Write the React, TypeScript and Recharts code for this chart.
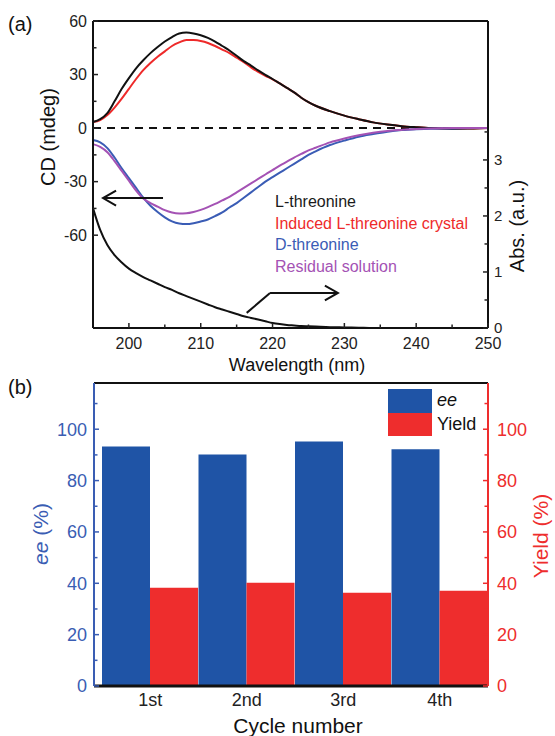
import React from 'react'
import { LineChart, Line, XAxis, YAxis, ReferenceLine, Legend, BarChart, Bar } from 'recharts'

const FONT = '"Liberation Sans", Arial, Helvetica, sans-serif'

// (a) CD spectra (mdeg) and absorbance of L-threonine
const wavelength = [195, 196, 197, 198, 199, 200, 201, 202, 203, 204, 205, 206, 207, 208, 209, 210, 211, 212, 213, 214, 215, 216, 217, 218, 219, 220, 221, 222, 223, 224, 225, 226, 228, 230, 232, 234, 236, 238, 240, 242, 245, 248, 250]
const cdL = [3.4, 5, 8.4, 15, 22, 28, 33.5, 38, 42, 45.4, 48.5, 51, 53, 53.5, 53, 52, 50.5, 48.5, 46, 43.5, 40.5, 37.5, 35, 32.3, 29.8, 27.5, 25, 22.5, 20, 17, 14.5, 12.5, 9.5, 7, 5, 3.2, 2, 1.1, 0.5, 0, -0.3, -0.2, 0]
const cdInduced = [3.4, 4.5, 7.3, 11.5, 16.5, 22, 27.5, 32.5, 36.5, 40, 43, 46, 48, 49.4, 49.3, 48.8, 47.7, 46, 44, 42, 39.5, 37, 34, 31.5, 29.3, 27.3, 25, 22.5, 20, 17, 14.5, 12.5, 9.5, 7, 5, 3.2, 2, 1.1, 0.5, 0, -0.3, -0.2, 0]
const cdD = [-6.7, -8, -11.2, -16.5, -22.5, -28, -33.5, -39, -43.5, -47, -50, -52.3, -53.5, -53.8, -53.3, -52.3, -51.2, -49.3, -47.2, -44.5, -42, -39, -36, -33, -30, -27.5, -25, -22.5, -20, -17.5, -15, -13, -9.5, -7, -4.8, -3.3, -2, -1.1, -0.6, -0.3, -0.2, 0, 0]
const cdResidual = [-9, -10.5, -13.5, -18.5, -24, -29.5, -35, -39.5, -42, -44, -46, -47.3, -47.8, -47.7, -47, -45.8, -44.3, -42.5, -40.5, -38.5, -36, -33.5, -31, -28.5, -26, -23.5, -21, -18.8, -16.5, -14.5, -12.5, -11, -8, -5.8, -4, -2.6, -1.6, -1, -0.5, -0.2, 0, 0, 0]
const absL = [2.14, 1.75, 1.48, 1.3, 1.17, 1.06, 0.98, 0.91, 0.85, 0.79, 0.73, 0.68, 0.62, 0.57, 0.52, 0.47, 0.42, 0.37, 0.33, 0.29, 0.25, 0.21, 0.18, 0.15, 0.12, 0.09, 0.07, 0.055, 0.045, 0.035, 0.03, 0.025, 0.015, 0.01, 0.005, 0, 0, 0, 0, 0, 0, 0, 0]

const cdMajor = [-60, -30, 0, 30, 60]
const cdMinor = [-45, -15, 15, 45]
const absMajor = [0, 1, 2, 3]
const absMinor = [0.5, 1.5, 2.5, 3.5]
const wlMajor = [200, 210, 220, 230, 240, 250]
const wlMinor = [205, 215, 225, 235, 245]

const legendA = [
  { name: 'L-threonine', color: '#1a1a1a' },
  { name: 'Induced L-threonine crystal', color: '#ee2a2a' },
  { name: 'D-threonine', color: '#3a5cb5' },
  { name: 'Residual solution', color: '#a452b4' },
]

// arrows pointing to the axis each curve family belongs to
const cdArrow = [{ x: 204.75, y: -39.2 }, { x: 196.4, y: -39.2 }]
const absArrowRise = [{ x: 216.4, y: 0.27 }, { x: 219.65, y: 0.625 }]
const absArrow = [{ x: 219.65, y: 0.625 }, { x: 229.1, y: 0.625 }]

// (b) recycling
const cycles = ['1st', '2nd', '3rd', '4th']
const eeValues = [93.3, 90.2, 95.2, 92.2]
const yieldValues = [38.3, 40.2, 36.3, 37.1]
const pctMajor = [0, 20, 40, 60, 80, 100]
const pctMinor = [10, 30, 50, 70, 90, 110]

const BLUE_BAR = '#1f54a6'
const BLUE_TXT = '#3a5db3'
const RED = '#ee2d2d'

const specData = wavelength.map((wl, i) => ({
  wl,
  l: cdL[i],
  induced: cdInduced[i],
  d: cdD[i],
  residual: cdResidual[i],
  abs: absL[i],
}))

const barData = cycles.map((c, i) => ({ cycle: c, ee: eeValues[i], yield: yieldValues[i] }))

type Side = 'left' | 'right' | 'bottom'

function axisTick(side: Side, major: number[], color: string, size: number, gap = 6, len = 5) {
  return (props: any) => {
    const { x, y, payload } = props
    const v = payload.value
    const isMajor = major.indexOf(v) >= 0
    const l = isMajor ? len : len * 0.7
    const txt = { fill: color, fontSize: size, fontFamily: FONT }
    if (side === 'left') {
      return (
        <g>
          <line x1={x} y1={y} x2={x + l} y2={y} stroke={color} strokeWidth={1.5} />
          {isMajor && <text x={x - gap} y={y} dy="0.355em" textAnchor="end" {...txt}>{v}</text>}
        </g>
      )
    }
    if (side === 'right') {
      return (
        <g>
          <line x1={x} y1={y} x2={x - l} y2={y} stroke={color} strokeWidth={1.5} />
          {isMajor && <text x={x + gap} y={y} dy="0.355em" textAnchor="start" {...txt}>{v}</text>}
        </g>
      )
    }
    return (
      <g>
        <line x1={x} y1={y} x2={x} y2={y - l} stroke={color} strokeWidth={1.5} />
        {isMajor && <text x={x} y={y + gap} dy="0.71em" textAnchor="middle" {...txt}>{v}</text>}
      </g>
    )
  }
}

function Arrow(props: any) {
  const { x1, y1, x2, y2 } = props
  const a = Math.atan2(y2 - y1, x2 - x1)
  const h = 15
  const w = 0.52
  const p1 = `${x2 - h * Math.cos(a - w)},${y2 - h * Math.sin(a - w)}`
  const p2 = `${x2 - h * Math.cos(a + w)},${y2 - h * Math.sin(a + w)}`
  return (
    <g>
      <line x1={x1} y1={y1} x2={x2} y2={y2} stroke="#111" strokeWidth={2} />
      <polyline points={`${p1} ${x2},${y2} ${p2}`} fill="none" stroke="#111" strokeWidth={2} />
    </g>
  )
}

function PlainSeg(props: any) {
  const { x1, y1, x2, y2 } = props
  return <line x1={x1} y1={y1} x2={x2} y2={y2} stroke="#111" strokeWidth={2} />
}

function vText(cx: number, cy: number, size: number, color: string, rotate = true): React.CSSProperties {
  return {
    position: 'absolute',
    left: cx,
    top: cy,
    transform: `translate(-50%, -50%)${rotate ? ' rotate(-90deg)' : ''}`,
    whiteSpace: 'nowrap',
    fontSize: size,
    lineHeight: 1,
    color,
    fontFamily: FONT,
  }
}

export default function App() {
  return (
    <div style={{ position: 'absolute', left: 0, top: 0, width: 555, height: 736, background: '#fff', overflow: 'hidden', fontFamily: FONT }}>
      {/* panel (a) */}
      <div style={{ position: 'absolute', left: 0, top: 0 }}>
        <LineChart width={555} height={370} data={specData} margin={{ top: 21, right: 0, left: 0, bottom: 0 }}>
          <XAxis
            dataKey="wl"
            type="number"
            domain={[195, 250]}
            ticks={[...wlMajor, ...wlMinor].sort((a, b) => a - b)}
            interval={0}
            height={42}
            tickSize={0}
            tickMargin={0}
            tickLine={false}
            axisLine={{ stroke: '#111', strokeWidth: 2 }}
            tick={axisTick('bottom', wlMajor, '#222', 16, 10)}
          />
          <YAxis
            yAxisId="cd"
            type="number"
            domain={[-112, 60]}
            ticks={[...cdMajor, ...cdMinor].sort((a, b) => a - b)}
            interval={0}
            width={93}
            tickSize={0}
            tickMargin={0}
            tickLine={false}
            axisLine={{ stroke: '#111', strokeWidth: 2 }}
            tick={axisTick('left', cdMajor, '#222', 16)}
          />
          <YAxis
            yAxisId="abs"
            orientation="right"
            type="number"
            domain={[0, 5.48]}
            ticks={[...absMajor, ...absMinor].sort((a, b) => a - b)}
            interval={0}
            width={67}
            tickSize={0}
            tickMargin={0}
            tickLine={false}
            axisLine={{ stroke: '#111', strokeWidth: 2 }}
            tick={axisTick('right', absMajor, '#222', 15)}
          />
          <ReferenceLine yAxisId="cd" y={60} stroke="#111" strokeWidth={2} />
          <ReferenceLine yAxisId="cd" y={0} stroke="#111" strokeWidth={2} strokeDasharray="8 6" />
          <Line yAxisId="cd" dataKey="induced" type="monotone" stroke="#ee2a2a" strokeWidth={2} dot={false} isAnimationActive={false} />
          <Line yAxisId="cd" dataKey="l" type="monotone" stroke="#111" strokeWidth={2} dot={false} isAnimationActive={false} />
          <Line yAxisId="cd" dataKey="d" type="monotone" stroke="#3a5cb5" strokeWidth={2} dot={false} isAnimationActive={false} />
          <Line yAxisId="cd" dataKey="residual" type="monotone" stroke="#a452b4" strokeWidth={2} dot={false} isAnimationActive={false} />
          <Line yAxisId="abs" dataKey="abs" type="monotone" stroke="#111" strokeWidth={2} dot={false} isAnimationActive={false} />
          <ReferenceLine yAxisId="cd" segment={cdArrow} shape={Arrow} />
          <ReferenceLine yAxisId="abs" segment={absArrowRise} shape={PlainSeg} />
          <ReferenceLine yAxisId="abs" segment={absArrow} shape={Arrow} />
          <Legend
            layout="vertical"
            align="center"
            verticalAlign="middle"
            wrapperStyle={{ left: 275, top: 191, width: 230 }}
            content={() => (
              <div style={{ fontFamily: FONT, fontSize: 16, lineHeight: '21.5px' }}>
                {legendA.map((s) => (
                  <div key={s.name} style={{ color: s.color, whiteSpace: 'nowrap' }}>{s.name}</div>
                ))}
              </div>
            )}
          />
        </LineChart>
      </div>

      {/* panel (b) */}
      <div style={{ position: 'absolute', left: 0, top: 370 }}>
        <BarChart width={555} height={366} data={barData} margin={{ top: 13, right: 0, left: 0, bottom: 0 }} barGap={0} barCategoryGap={0}>
          <XAxis
            dataKey="cycle"
            height={50}
            padding={{ left: 8, right: 0 }}
            tickSize={0}
            tickMargin={7}
            tickLine={false}
            axisLine={{ stroke: '#111', strokeWidth: 3 }}
            tick={{ fill: '#222', fontSize: 18, fontFamily: FONT }}
            interval={0}
          />
          <YAxis
            yAxisId="ee"
            type="number"
            domain={[0, 118]}
            ticks={[...pctMajor, ...pctMinor].sort((a, b) => a - b)}
            interval={0}
            width={94}
            tickSize={0}
            tickMargin={0}
            tickLine={false}
            axisLine={{ stroke: BLUE_TXT, strokeWidth: 2 }}
            tick={axisTick('left', pctMajor, BLUE_TXT, 18, 7)}
          />
          <YAxis
            yAxisId="yield"
            orientation="right"
            type="number"
            domain={[0, 118]}
            ticks={[...pctMajor, ...pctMinor].sort((a, b) => a - b)}
            interval={0}
            width={67}
            tickSize={0}
            tickMargin={0}
            tickLine={false}
            axisLine={{ stroke: RED, strokeWidth: 2 }}
            tick={axisTick('right', pctMajor, RED, 18, 9)}
          />
          <Bar yAxisId="ee" dataKey="ee" fill={BLUE_BAR} barSize={48} isAnimationActive={false} />
          <Bar yAxisId="yield" dataKey="yield" fill={RED} barSize={48} isAnimationActive={false} />
          <ReferenceLine yAxisId="ee" y={118} stroke="#111" strokeWidth={2} />
          <Legend
            layout="vertical"
            align="center"
            verticalAlign="middle"
            wrapperStyle={{ left: 388, top: 19, width: 110 }}
            content={() => (
              <div style={{ fontFamily: FONT, fontSize: 18 }}>
                {[
                  { label: <i>ee</i>, color: BLUE_BAR },
                  { label: 'Yield', color: RED },
                ].map((s, i) => (
                  <div key={i} style={{ display: 'flex', alignItems: 'center', height: 23.5 }}>
                    <span style={{ display: 'inline-block', width: 44, height: 23.5, background: s.color }} />
                    <span style={{ marginLeft: 5, color: '#111' }}>{s.label}</span>
                  </div>
                ))}
              </div>
            )}
          />
        </BarChart>
      </div>

      {/* titles */}
      <div style={{ position: 'absolute', left: 8, top: 14, fontSize: 20, lineHeight: 1, color: '#111' }}>(a)</div>
      <div style={{ position: 'absolute', left: 8, top: 377, fontSize: 20, lineHeight: 1, color: '#111' }}>(b)</div>
      <div style={vText(48, 137, 20, '#111')}>CD (mdeg)</div>
      <div style={vText(517, 226, 20, '#111')}>Abs. (a.u.)</div>
      <div style={vText(297, 365, 18, '#111', false)}>Wavelength (nm)</div>
      <div style={vText(40, 534, 21, BLUE_TXT)}><i>ee</i> (%)</div>
      <div style={vText(540, 536, 21, RED)}>Yield (%)</div>
      <div style={vText(298, 725, 21, '#111', false)}>Cycle number</div>
    </div>
  )
}
